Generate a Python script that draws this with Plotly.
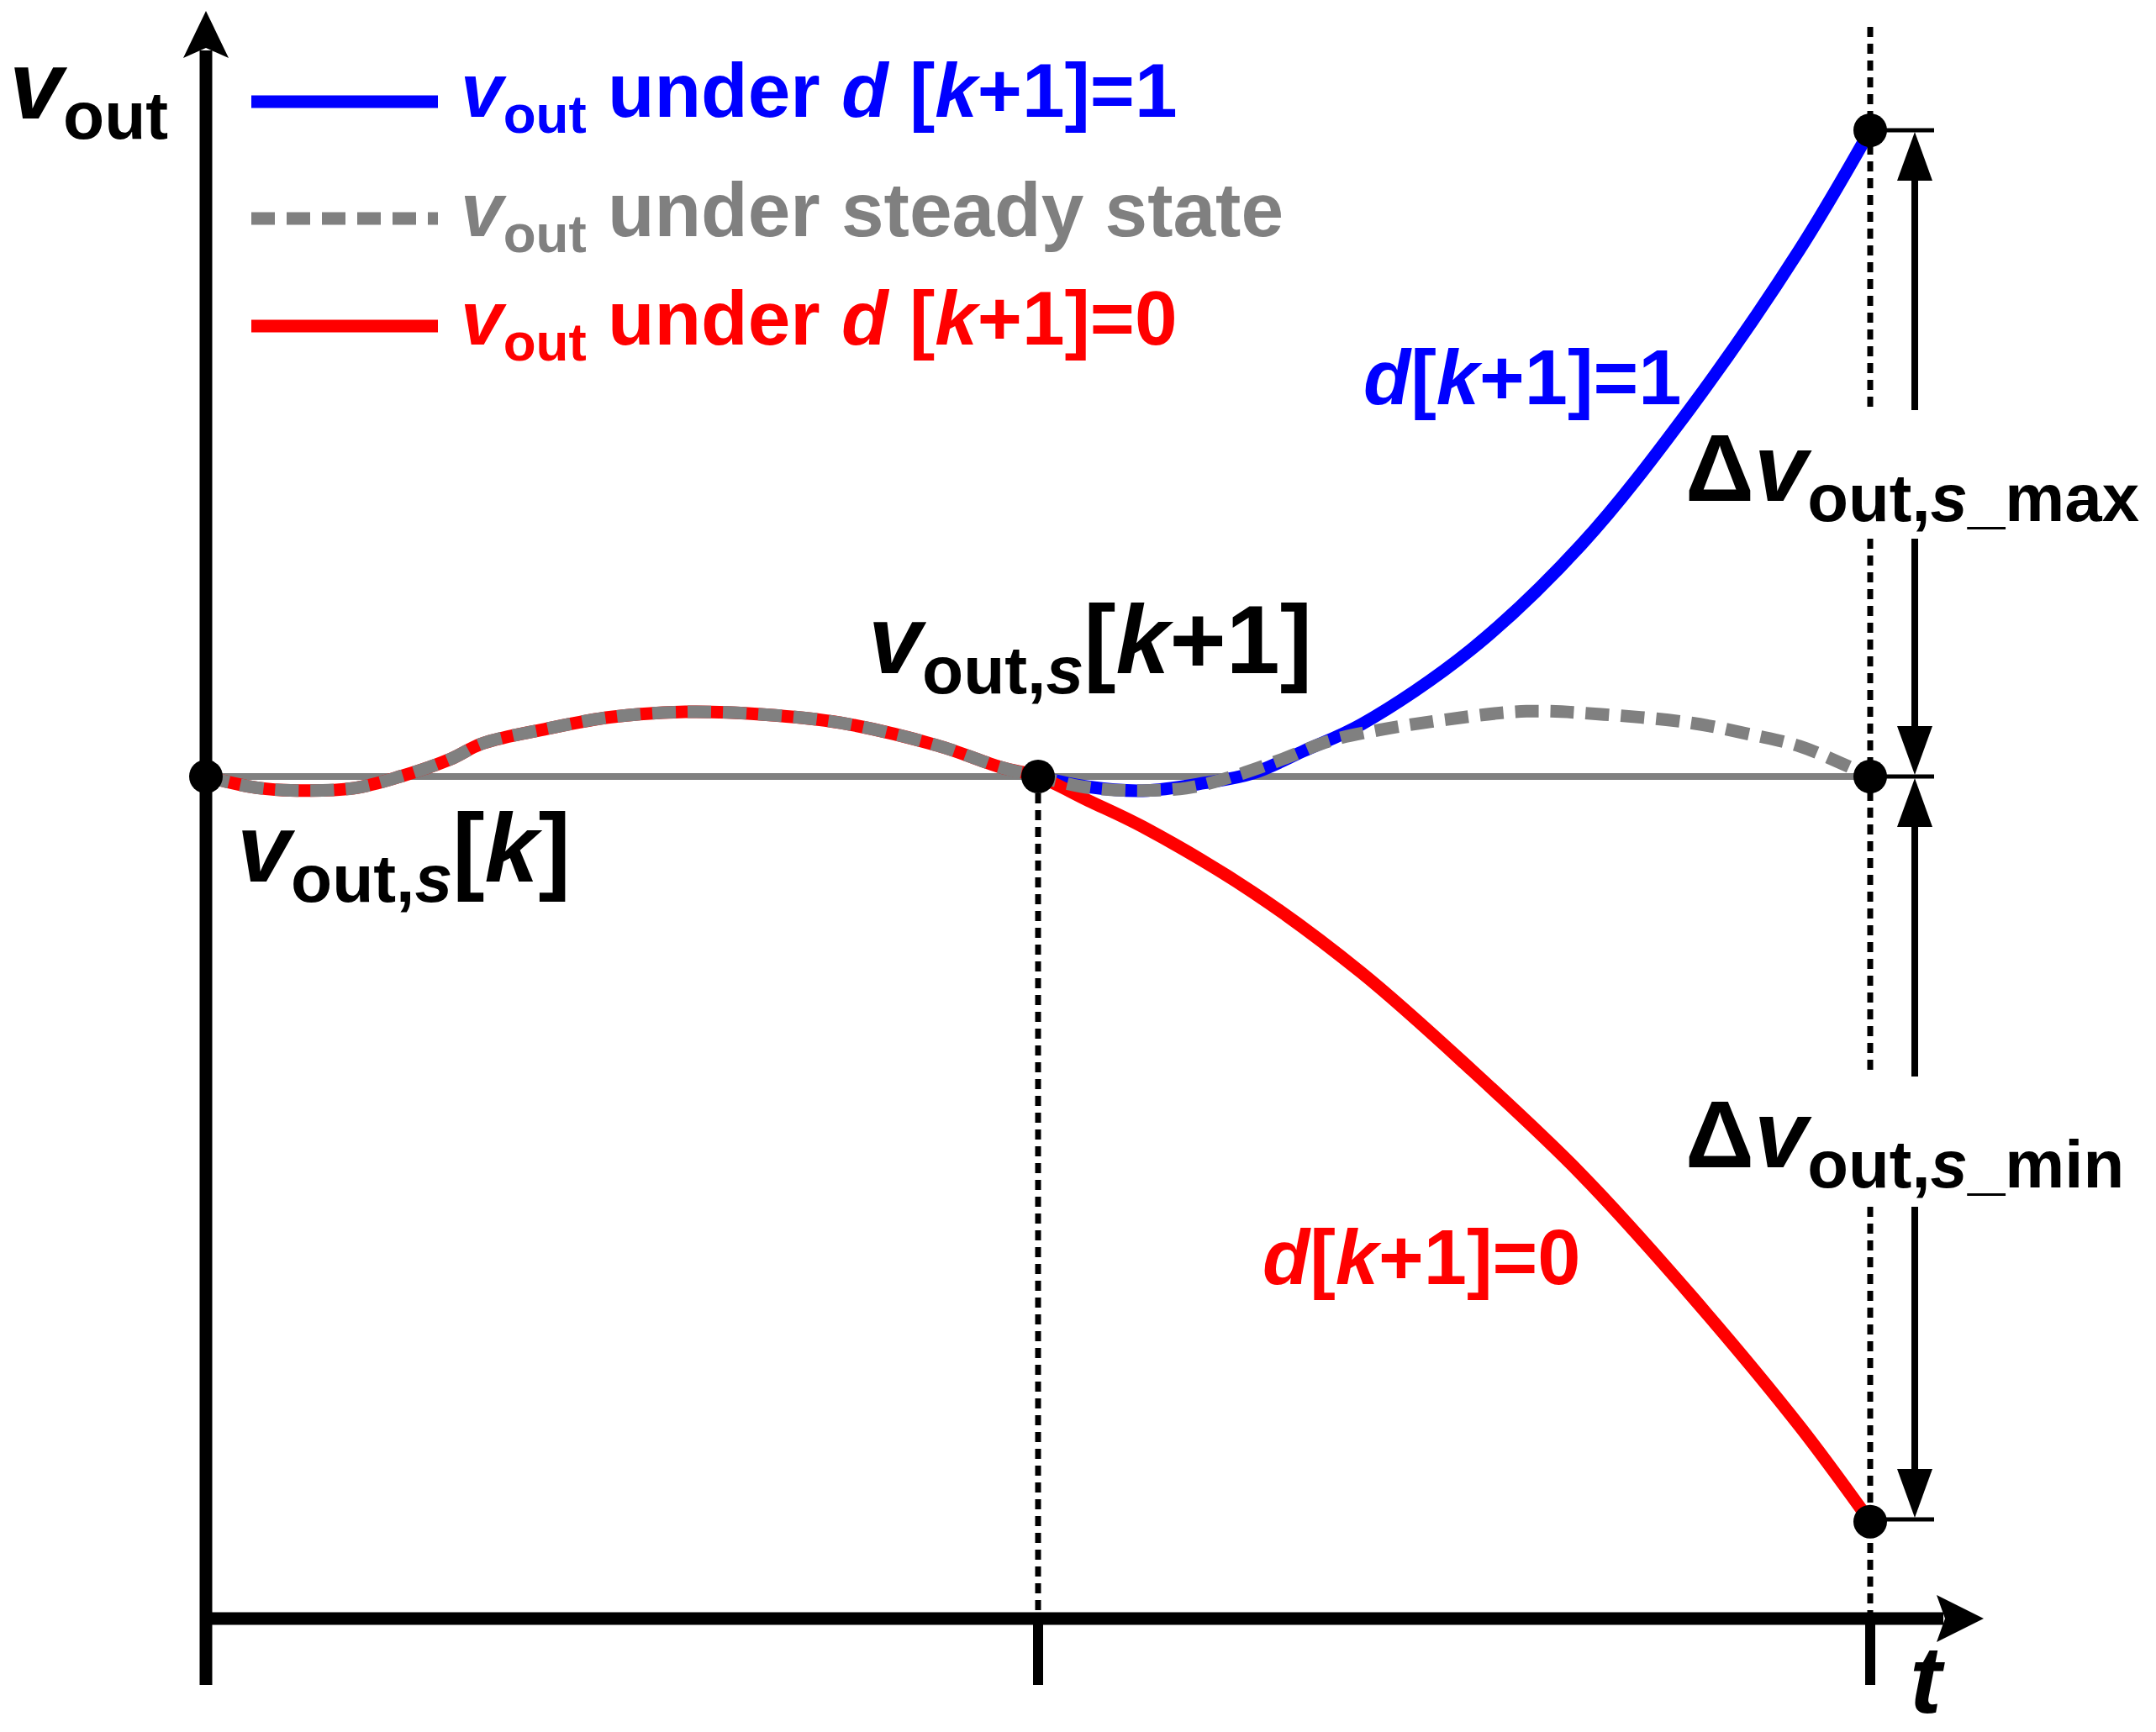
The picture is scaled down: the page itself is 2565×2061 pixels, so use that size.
import plotly.graph_objects as go

# switching periods on the t axis, normalised output voltage on the v axis
steady_t = [0.0, 0.05, 0.093, 0.178, 0.236, 0.294, 0.332, 0.41, 0.487, 0.576, 0.67, 0.763, 0.879, 0.956, 1.0,
            1.05, 1.093, 1.178, 1.236, 1.294, 1.35, 1.41, 1.49, 1.587, 1.68, 1.784, 1.86, 1.915, 1.966, 2.0]
steady_v = [0.0, -0.015, -0.021, -0.018, 0.001, 0.027, 0.051, 0.074, 0.092, 0.100, 0.096, 0.083, 0.048, 0.014, 0.0,
            -0.015, -0.021, -0.018, 0.001, 0.027, 0.055, 0.072, 0.088, 0.101, 0.096, 0.083, 0.064, 0.047, 0.020, 0.0]

# d[k+1]=1 : output keeps the ripple for a while, then climbs
d1_t = [1.0, 1.06, 1.126, 1.2, 1.258, 1.32, 1.389, 1.52, 1.653, 1.784, 1.915, 2.0]
d1_v = [0.0, -0.016, -0.022, -0.010, 0.005, 0.040, 0.081, 0.196, 0.359, 0.570, 0.815, 1.0]

# d[k+1]=0 : output falls right after the k+1 sample
d0_t = [1.0, 1.06, 1.126, 1.258, 1.389, 1.52, 1.653, 1.784, 1.915, 2.0]
d0_v = [0.0, -0.037, -0.078, -0.179, -0.304, -0.453, -0.616, -0.802, -1.005, -1.153]

sample_t = [0.0, 1.0, 2.0]

SCREEN_W, SCREEN_H = 2565, 2061
PAGE_MARGIN = 8            # default <body> margin around the plot div
W, H = SCREEN_W - 2 * PAGE_MARGIN, SCREEN_H - 2 * PAGE_MARGIN
T0_PX, PX_T = 245, 990     # screen x of t=0, pixels per period
V0_PX, PX_V = 924, 769     # screen y of v=0, pixels per unit v

FONT = "Liberation Sans, Arial, sans-serif"
BLUE, RED, GREY = "#0000ff", "#ff0000", "#808080"
CURVE_W = 15
DASH = "28px,14px"
GUIDE_DASH = "12px,8px"


def tx(px):
    return (px - T0_PX) / PX_T


def vy(px):
    return (V0_PX - px) / PX_V


def head(x, y, ux, uy, length, width, notch=0.0):
    # arrow head with its tip at screen (x, y), pointing along (ux, uy) (screen, y down)
    nx, ny = -uy, ux
    bx, by = x - ux * length, y - uy * length
    pts = [
        (x, y),
        (bx + nx * width / 2, by + ny * width / 2),
        (x - ux * (length - notch), y - uy * (length - notch)),
        (bx - nx * width / 2, by - ny * width / 2),
    ]
    return "M" + " L".join(f"{tx(px):.5f},{vy(py):.5f}" for px, py in pts) + " Z"


def seg(x0, y0, x1, y1, width, color="black", dash="solid"):
    return dict(type="line", xref="x", yref="y", x0=tx(x0), y0=vy(y0), x1=tx(x1), y1=vy(y1),
                line=dict(color=color, width=width, dash=dash), layer="above")


def label(x_left, baseline, text, size, color="black"):
    return dict(x=tx(x_left), y=vy(baseline - 0.33 * size), xref="x", yref="y",
                xanchor="left", yanchor="middle", showarrow=False, text=text,
                font=dict(family=FONT, size=size, color=color, weight="bold"))


fig = go.Figure()

line_kw = dict(mode="lines", line_shape="spline", hoverinfo="skip", showlegend=False)
fig.add_trace(go.Scatter(x=d1_t, y=d1_v, line=dict(color=BLUE, width=CURVE_W), **line_kw))
fig.add_trace(go.Scatter(x=steady_t[:15] + d0_t[1:], y=steady_v[:15] + d0_v[1:],
                         line=dict(color=RED, width=CURVE_W), **line_kw))
fig.add_trace(go.Scatter(x=steady_t, y=steady_v, line=dict(color=GREY, width=CURVE_W, dash=DASH), **line_kw))
fig.add_trace(go.Scatter(
    x=sample_t + [d1_t[-1], d0_t[-1]],
    y=[steady_v[0], steady_v[14], steady_v[-1], d1_v[-1], d0_v[-1]],
    mode="markers", marker=dict(color="black", size=40), cliponaxis=False,
    hoverinfo="skip", showlegend=False,
))

shapes = []
# steady-state reference level
shapes.append(dict(type="line", xref="x", yref="y", x0=sample_t[0], x1=sample_t[-1], y0=0, y1=0,
                   line=dict(color=GREY, width=8), layer="below"))
# axes with arrow heads
shapes.append(seg(245, 2005, 245, 60, 15))
shapes.append(seg(245, 1926, 2312, 1926, 15))
shapes.append(dict(type="path", xref="x", yref="y", path=head(245, 13, 0, -1, 56, 54, 12),
                   fillcolor="black", line=dict(width=0)))
shapes.append(dict(type="path", xref="x", yref="y", path=head(2360, 1926, 1, 0, 56, 56, 10),
                   fillcolor="black", line=dict(width=0)))
# sampling ticks
for t in sample_t:
    px = T0_PX + t * PX_T
    shapes.append(seg(px, 1926, px, 2005, 12))
# dotted guides
shapes.append(seg(1235, 924, 1235, 1926, 7, dash=GUIDE_DASH))
for y0, y1 in [(32, 488), (641, 1281), (1436, 2000)]:
    shapes.append(seg(2225, y0, 2225, y1, 7, dash=GUIDE_DASH))
# delta dimension lines
for yy in [155, 924, 1808]:
    shapes.append(seg(2225, yy, 2301, yy, 5))
for y0, y1 in [(210, 488), (641, 870), (978, 1281), (1436, 1752)]:
    shapes.append(seg(2278, y0, 2278, y1, 8))
for yy, uy in [(157, -1), (922, 1), (926, -1), (1806, 1)]:
    shapes.append(dict(type="path", xref="x", yref="y", path=head(2278, yy, 0, uy, 58, 42),
                       fillcolor="black", line=dict(width=0)))
# legend samples
shapes.append(seg(299, 121, 521, 121, CURVE_W, BLUE))
shapes.append(seg(299, 260, 521, 260, CURVE_W, GREY, DASH))
shapes.append(seg(299, 388, 521, 388, CURVE_W, RED))

sub_vout = "<i>v</i><sub>out</sub>"
annotations = [
    label(9, 147, sub_vout, 115),
    label(546, 144, sub_vout + " under <i>d</i> [<i>k</i>+1]=1", 91, BLUE),
    label(546, 286, sub_vout + " under steady state", 91, GREY),
    label(546, 415, sub_vout + " under <i>d</i> [<i>k</i>+1]=0", 91, RED),
    label(1031, 807, "<i>v</i><sub>out,<i>s</i></sub>[<i>k</i>+1]", 115),
    label(280, 1055, "<i>v</i><sub>out,<i>s</i></sub>[<i>k</i>]", 115),
    label(1620, 479, "<i>d</i>[<i>k</i>+1]=1", 92, BLUE),
    label(1500, 1526, "<i>d</i>[<i>k</i>+1]=0", 92, RED),
    label(2003, 603, "\u0394<i>v</i><sub>out,<i>s</i>_max</sub>", 114),
    label(2003, 1396, "\u0394<i>v</i><sub>out,<i>s</i>_min</sub>", 114),
    label(2270, 2036, "<i>t</i>", 114),
]

fig.update_layout(
    width=W,
    height=H,
    margin=dict(l=0, r=0, t=0, b=0),
    paper_bgcolor="white",
    plot_bgcolor="white",
    xaxis=dict(range=[tx(PAGE_MARGIN), tx(PAGE_MARGIN + W)], visible=False, fixedrange=True),
    yaxis=dict(range=[vy(PAGE_MARGIN + H), vy(PAGE_MARGIN)], visible=False, fixedrange=True),
    shapes=shapes,
    annotations=annotations,
    showlegend=False,
)

fig.write_html("out.html")
